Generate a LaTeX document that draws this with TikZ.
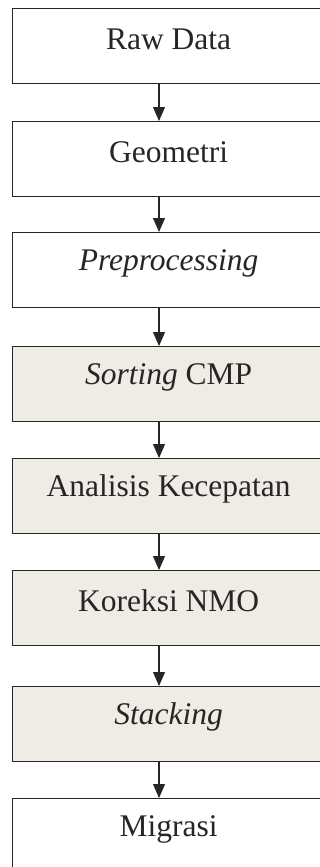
\documentclass[tikz,border=0pt]{standalone}
\usepackage{fontspec}
\setmainfont{Liberation Serif}
\usetikzlibrary{arrows.meta}
\definecolor{stepfill}{HTML}{EEECE5}
\tikzset{
  stepbox/.style={draw=black!85, line width=1.3pt, minimum width=312pt, minimum height=75pt,
    anchor=north west, inner sep=0pt},
  plainbox/.style={stepbox, fill=white},
  shadedbox/.style={stepbox, fill=stepfill},
  steptext/.style={font=\fontsize{31.5}{36}\selectfont, text=black!85, inner sep=0pt},
  flow/.style={draw=black!85, line width=1.1pt, -{Triangle[width=12pt,length=14pt]}}
}
\begin{document}
\begin{tikzpicture}[x=1pt,y=-1pt]
  \useasboundingbox (0,0) rectangle (320,867);
  \begin{scope}
    \clip (0,0) rectangle (320,867);
    % process boxes
    \node[plainbox]  (raw)  at (12,8)   {};
    \node[plainbox]  (geo)  at (12,121) {};
    \node[plainbox]  (pre)  at (12,232) {};
    \node[shadedbox] (sort) at (12,346) {};
    \node[shadedbox] (vel)  at (12,458) {};
    \node[shadedbox] (nmo)  at (12,570) {};
    \node[shadedbox] (stk)  at (12,686) {};
    \node[plainbox]  (mig)  at (12,798) {};
    % labels, set slightly above the box centres
    \node[steptext] (traw)  at ([yshift=7pt]raw.center)  {Raw Data};
    \node[steptext] (tgeo)  at ([yshift=7pt]geo.center)  {Geometri};
    \node[steptext] (tpre)  at ([yshift=7pt]pre.center)  {\itshape Preprocessing};
    \node[steptext] (tsort) at ([yshift=7pt]sort.center) {\textit{Sorting} CMP};
    \node[steptext] (tvel)  at ([yshift=7pt]vel.center)  {Analisis Kecepatan};
    \node[steptext] (tnmo)  at ([yshift=7pt]nmo.center)  {Koreksi NMO};
    \node[steptext] (tstk)  at ([yshift=7pt]stk.center)  {\itshape Stacking};
    \node[steptext] (tmig)  at ([yshift=7pt]mig.center)  {Migrasi};
    % connectors along the common axis
    \foreach \a/\b in {raw/geo, geo/pre, pre/sort, sort/vel, vel/nmo, nmo/stk, stk/mig}{
      \draw[flow] (\a.south west -| 159,0) -- (\b.north west -| 159,0);
    }
  \end{scope}
\end{tikzpicture}
\end{document}
